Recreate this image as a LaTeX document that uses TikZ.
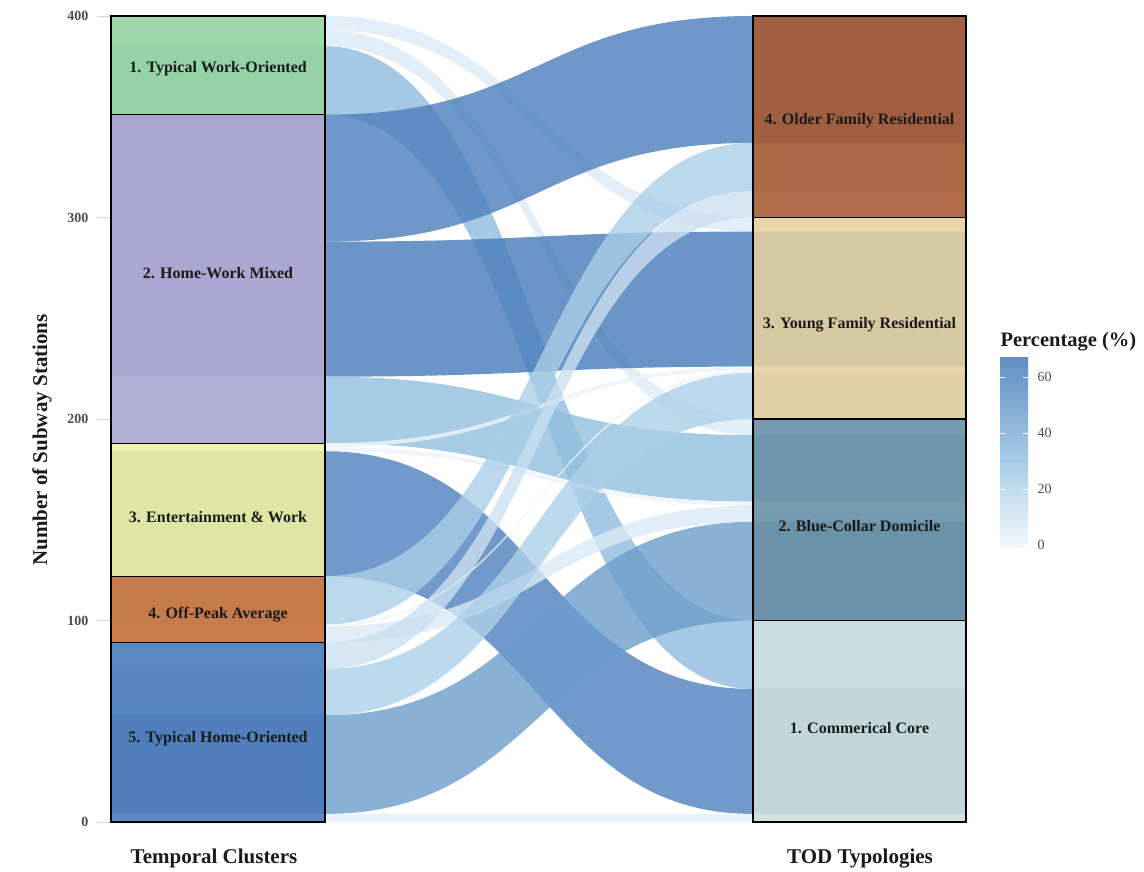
\documentclass[tikz,border=0pt]{standalone}
\usepackage{fontspec}
\setmainfont{Liberation Serif}
\definecolor{c1}{RGB}{239,244,251}
\definecolor{c2}{RGB}{236,243,250}
\definecolor{c4}{RGB}{230,239,249}
\definecolor{c7}{RGB}{221,234,246}
\definecolor{c8}{RGB}{218,233,245}
\definecolor{c13}{RGB}{203,224,241}
\definecolor{c23}{RGB}{173,208,232}
\definecolor{c24}{RGB}{170,206,231}
\definecolor{c33}{RGB}{145,190,222}
\definecolor{c34}{RGB}{143,188,221}
\definecolor{c49}{RGB}{107,156,203}
\definecolor{c62}{RGB}{77,128,188}
\definecolor{c63}{RGB}{75,126,186}
\definecolor{c67}{RGB}{70,122,184}
\definecolor{clow}{RGB}{242,246,252}
\definecolor{cmid}{RGB}{152,196,226}
\definecolor{chigh}{RGB}{70,122,184}
\definecolor{bSa}{RGB}{147,212,156}
\definecolor{bSb}{RGB}{182,170,210}
\definecolor{bSc}{RGB}{241,244,160}
\definecolor{bSd}{RGB}{200,108,47}
\definecolor{bSe}{RGB}{69,120,185}
\definecolor{bRd}{RGB}{169,86,42}
\definecolor{bRc}{RGB}{233,209,154}
\definecolor{bRb}{RGB}{101,141,161}
\definecolor{bRa}{RGB}{206,225,221}
\definecolor{txt}{RGB}{26,26,26}
\definecolor{axtxt}{RGB}{77,77,77}
\newcommand{\flowband}[5]{%
  \fill[flowstyle, fill=#1] (111,#2) -- (325,#2) .. controls (539,#2) and (539,#4) .. (753,#4) -- (966,#4) -- (966,#5) -- (753,#5) .. controls (539,#5) and (539,#3) .. (325,#3) -- (111,#3) -- cycle;}
\newcommand{\lbl}[2]{\raisebox{#1pt}[0pt][0pt]{#2}}
\begin{document}
\begin{tikzpicture}[x=1pt, y=2.015pt,
  flowstyle/.style={fill opacity=0.8},
  stratbox/.style={draw=black, line width=1.1pt, fill opacity=0.85, text opacity=1,
    inner sep=0pt, text=txt, font=\fontsize{16}{18}\selectfont\bfseries},
  leftbox/.style={stratbox, minimum width=214pt},
  rightbox/.style={stratbox, minimum width=213pt, minimum height=201.5pt},
  ticklab/.style={anchor=east, text=axtxt, font=\fontsize{14}{16}\selectfont\bfseries},
  axtitle/.style={text=txt, font=\fontsize{21}{23}\selectfont\bfseries},
  leglab/.style={anchor=west, text=axtxt, font=\fontsize{14}{16}\selectfont}]
\useasboundingbox (0,-24.32) rectangle (1144,407.94);
% axis ticks
\foreach \v in {0,100,200,300,400}{
  \draw[black!15, line width=0.8pt] (97,\v) -- (110,\v);
  \node[ticklab] (t\v) at (92,\v) {\v};
}
% flows
\flowband{c7}{400}{393}{300}{293}
\flowband{c8}{393}{385}{200}{192}
\flowband{c34}{385}{351}{100}{66}
\flowband{c63}{351}{288}{400}{337}
\flowband{c67}{288}{221}{293}{226}
\flowband{c33}{221}{188}{192}{159}
\flowband{c2}{188}{186}{226}{224}
\flowband{c2}{186}{184}{159}{157}
\flowband{c62}{184}{122}{66}{4}
\flowband{c24}{122}{98}{337}{313}
\flowband{c1}{98}{97}{224}{223}
\flowband{c8}{97}{89}{157}{149}
\flowband{c13}{89}{76}{313}{300}
\flowband{c23}{76}{53}{223}{200}
\flowband{c49}{53}{4}{149}{100}
\flowband{c4}{4}{0}{4}{0}
% left strata
\node[leftbox, fill=bSa, minimum height=98.7pt] (s1) at (218,375.5) {\lbl{-7}{1. Typical Work-Oriented}};
\node[leftbox, fill=bSb, minimum height=328.4pt] (s2) at (218,269.5) {\lbl{0.5}{2. Home-Work Mixed}};
\node[leftbox, fill=bSc, minimum height=133pt] (s3) at (218,155) {\lbl{-13}{3. Entertainment \& Work}};
\node[leftbox, fill=bSd, minimum height=66.5pt] (s4) at (218,105.5) {\lbl{-9}{4. Off-Peak Average}};
\node[leftbox, fill=bSe, minimum height=179.3pt] (s5) at (218,44.5) {\lbl{-10}{5. Typical Home-Oriented}};
% right strata
\node[rightbox, fill=bRd] (r4) at (859.5,350) {\lbl{-8}{4. Older Family Residential}};
\node[rightbox, fill=bRc] (r3) at (859.5,250) {\lbl{-10}{3. Young Family Residential}};
\node[rightbox, fill=bRb] (r2) at (859.5,150) {\lbl{-12}{2. Blue-Collar Domicile}};
\node[rightbox, fill=bRa] (r1) at (859.5,50) {\lbl{-12}{1. Commerical Core}};
% axis titles
\node[axtitle] (xl) at (214,-17.9) {Temporal Clusters};
\node[axtitle] (xr) at (860,-17.9) {TOD Typologies};
\node[axtitle, rotate=90, font=\fontsize{21}{23}\selectfont\bfseries] (yl) at (42,189.6) {Number of Subway Stations};
% legend
\node[axtitle, anchor=west, font=\fontsize{20.5}{22}\selectfont\bfseries] (lt) at (997,238.2) {Percentage (\%)};
\shade[bottom color=clow, top color=cmid, fill opacity=0.85] (1000,136.08) rectangle (1028,179.16);
\shade[bottom color=cmid, top color=chigh, fill opacity=0.85] (1000,179.16) rectangle (1028,230.57);
\foreach \L/\v in {0/137.47,20/165.26,40/193.05,60/220.84}{
  \draw[white, line width=0.8pt] (1000,\v) -- (1005,\v);
  \draw[white, line width=0.8pt] (1023,\v) -- (1028,\v);
  \node[leglab] (lg\L) at (1034,\v) {\L};
}
\end{tikzpicture}
\end{document}
